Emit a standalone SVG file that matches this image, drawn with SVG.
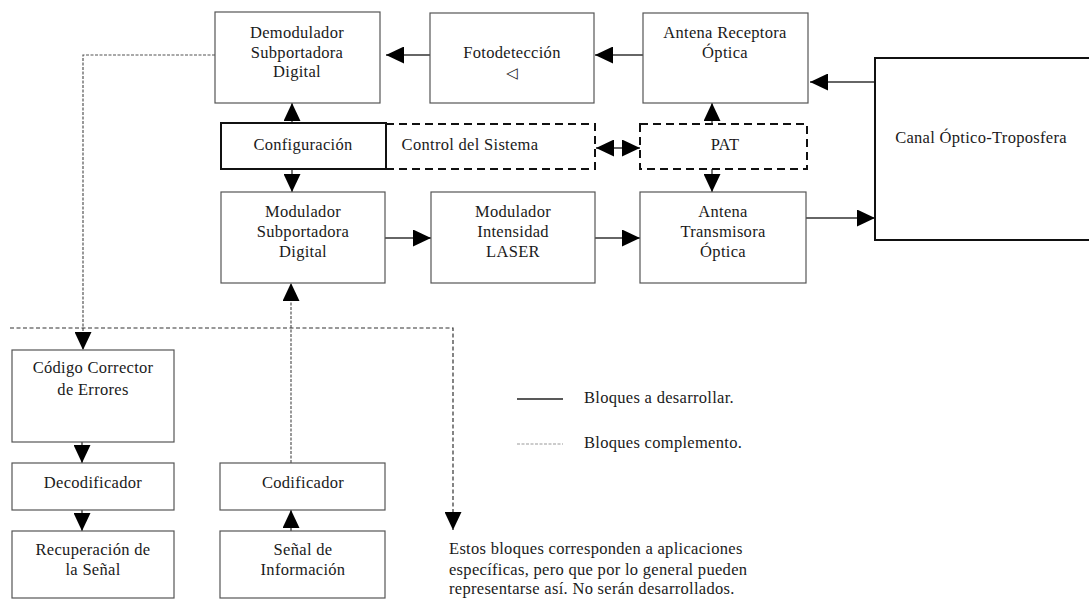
<svg xmlns="http://www.w3.org/2000/svg" width="1089" height="600" viewBox="0 0 1089 600">
<style>
text{font-family:"Liberation Serif","Times New Roman",serif;font-size:16.5px;letter-spacing:0.3px;fill:#1a1a1a;text-anchor:middle}
.b{fill:none;stroke:#555;stroke-width:1.2}
.s{fill:none;stroke:#111;stroke-width:2}
.d{fill:none;stroke:#111;stroke-width:2;stroke-dasharray:8 5}
.c{fill:none;stroke:#333;stroke-width:1.3}
.dot{fill:none;stroke:#555;stroke-width:1.2;stroke-dasharray:3 1.5}
.dsh{fill:none;stroke:#333;stroke-width:1.2;stroke-dasharray:4 2.5}
.a{marker-end:url(#ah)}
.sym{font-family:"DejaVu Sans",sans-serif;font-size:15px}
</style>
<defs>
<marker id="ah" markerUnits="userSpaceOnUse" markerWidth="18" markerHeight="17" refX="18" refY="8.5" orient="auto-start-reverse">
<path d="M0,0 L18,8.5 L0,17 Z" fill="#000"/>
</marker>
</defs>
<rect width="1089" height="600" fill="#fff"/>

<g id="connectors">
<path class="c a" d="M430,55 L386,55"/>
<path class="c a" d="M643,55 L595,55"/>
<path class="c a" d="M875,82 L810,82"/>
<path class="c a" d="M292,123 L292,103"/>
<path class="c a" d="M292,168 L292,192"/>
<path class="c a" d="M712,124 L712,103"/>
<path class="c a" d="M712,169 L712,192"/>
<path class="c a" d="M596,148 L640,148" marker-start="url(#ah)"/>
<path class="c a" d="M385,238 L431,238"/>
<path class="c a" d="M595,238 L640,238"/>
<path class="c a" d="M806,218 L875,218"/>
<path class="dot a" d="M215,55 L83,55 L83,350"/>
<path class="c a" d="M82,442 L82,463"/>
<path class="c a" d="M82,510 L82,531"/>
<path class="c a" d="M291,531 L291,510"/>
<path class="dot a" d="M291,463 L291,283"/>
<path class="dsh a" d="M10,328 L453,328 L453,530"/>
</g>

<g id="demodulador"><rect class="b" x="215" y="12" width="165" height="91"/>
<text x="297" y="38">Demodulador</text><text x="297" y="58">Subportadora</text><text x="297" y="77">Digital</text></g>
<g id="fotodeteccion"><rect class="b" x="430" y="13" width="164" height="90"/>
<text x="512" y="58">Fotodetección</text><text class="sym" x="512" y="78">◁</text></g>
<g id="antena-receptora"><rect class="b" x="643" y="13" width="165" height="90"/>
<text x="725" y="38">Antena Receptora</text><text x="725" y="58">Óptica</text></g>
<g id="control"><rect class="d" x="386" y="124" width="209" height="45"/>
<text x="470" y="150">Control del Sistema</text></g>
<g id="configuracion"><rect class="s" x="221" y="123" width="165" height="46"/>
<text x="303" y="150">Configuración</text></g>
<g id="pat"><rect class="d" x="640" y="124" width="167" height="45"/>
<text x="725" y="150">PAT</text></g>
<g id="canal"><rect class="s" x="875" y="58" width="240" height="182"/>
<text x="981" y="143">Canal Óptico-Troposfera</text></g>
<g id="modulador-subportadora"><rect class="b" x="221" y="192" width="164" height="91"/>
<text x="303" y="217">Modulador</text><text x="303" y="237">Subportadora</text><text x="303" y="257">Digital</text></g>
<g id="modulador-laser"><rect class="b" x="431" y="192" width="164" height="91"/>
<text x="513" y="217">Modulador</text><text x="513" y="237">Intensidad</text><text x="513" y="257">LASER</text></g>
<g id="antena-transmisora"><rect class="b" x="640" y="192" width="166" height="91"/>
<text x="723" y="217">Antena</text><text x="723" y="237">Transmisora</text><text x="723" y="257">Óptica</text></g>
<g id="codigo"><rect class="b" x="12" y="350" width="162" height="92"/>
<text x="93" y="373">Código Corrector</text><text x="93" y="395">de Errores</text></g>
<g id="decodificador"><rect class="b" x="12" y="463" width="162" height="47"/>
<text x="93" y="488">Decodificador</text></g>
<g id="recuperacion"><rect class="b" x="12" y="531" width="162" height="67"/>
<text x="93" y="555">Recuperación de</text><text x="93" y="575">la Señal</text></g>
<g id="codificador"><rect class="b" x="220" y="463" width="165" height="47"/>
<text x="303" y="488">Codificador</text></g>
<g id="senal"><rect class="b" x="220" y="531" width="165" height="67"/>
<text x="303" y="555">Señal de</text><text x="303" y="575">Información</text></g>

<g id="legend">
<line x1="517" y1="399" x2="563" y2="399" stroke="#222" stroke-width="1.3"/>
<text x="584" y="403" style="text-anchor:start">Bloques a desarrollar.</text>
<line x1="517" y1="444" x2="563" y2="444" stroke="#999" stroke-width="1" stroke-dasharray="3 1.5"/>
<text x="584" y="448" style="text-anchor:start">Bloques complemento.</text>
</g>
<g id="nota">
<text x="449" y="554" style="text-anchor:start">Estos bloques corresponden a aplicaciones</text>
<text x="449" y="575" style="text-anchor:start">específicas, pero que por lo general pueden</text>
<text x="449" y="594" style="text-anchor:start">representarse así. No serán desarrollados.</text>
</g>
</svg>
